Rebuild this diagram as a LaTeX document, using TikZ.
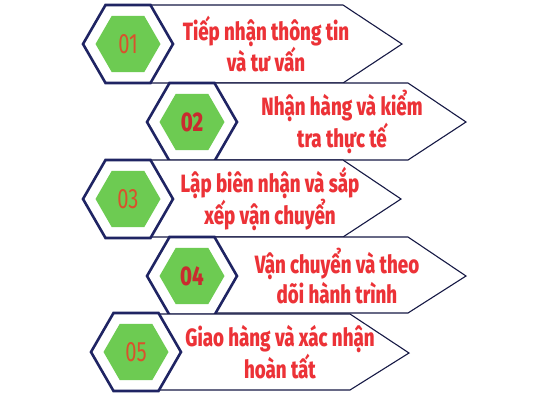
\documentclass[tikz,border=0pt]{standalone}
\usepackage{fontspec}
\setmainfont{Fira Sans}
\newfontfamily\stepfont[FakeStretch=0.75,UprightFont={* ExtraBold}]{Fira Sans}
\newfontfamily\numfont[FakeStretch=0.72]{Fira Sans}
\usetikzlibrary{shapes.geometric}
\definecolor{navy}{HTML}{1F2463}
\definecolor{leaf}{HTML}{6DCB52}
\definecolor{stepred}{HTML}{EC3237}
\definecolor{numorange}{HTML}{D9512C}
\begin{document}
\begin{tikzpicture}[x=1pt,y=-1pt,
  hexout/.style={regular polygon, regular polygon sides=6, minimum size=90pt,
    inner sep=0pt, draw=navy, line width=2.6pt, fill=white},
  hexin/.style={regular polygon, regular polygon sides=6, minimum size=65pt,
    inner sep=0pt, fill=leaf},
  arrowbox/.style={draw=navy!70!black, line width=1.1pt, fill=white},
  steptext/.style={text=stepred, align=center,
    font=\stepfont\fontsize{25}{30}\selectfont},
  numlight/.style={text=numorange, font=\numfont\fontsize{28}{28}\selectfont},
  numbold/.style={text=stepred!85!black, font=\stepfont\fontsize{27}{27}\selectfont}]
\useasboundingbox (0,0) rectangle (533,400);
% row 1
\draw[arrowbox] (128,5) -- (343,5) -- (402,44) -- (343,83) -- (128,83);
\node[hexout] (h1) at (128,44) {};
\node[hexin] (g1) at (h1) {};
\node[numlight] (n1) at (g1) {01};
\node[steptext] (t1) at (266,44) {Tiếp nhận thông tin\\và tư vấn};
% row 2
\draw[arrowbox] (192,83) -- (408,83) -- (466,122) -- (408,160) -- (192,160);
\node[hexout] (h2) at (192,122) {};
\node[hexin] (g2) at (h2) {};
\node[numbold] (n2) at (g2) {02};
\node[steptext] (t2) at (342,122) {Nhận hàng và kiểm\\tra thực tế};
% row 3
\draw[arrowbox] (128,160) -- (343,160) -- (401,199) -- (343,237) -- (128,237);
\node[hexout] (h3) at (128,199) {};
\node[hexin] (g3) at (h3) {};
\node[numlight] (n3) at (g3) {03};
\node[steptext] (t3) at (270,199) {Lập biên nhận và sắp\\xếp vận chuyển};
% row 4
\draw[arrowbox] (192,237) -- (408,237) -- (466,276) -- (408,313) -- (192,313);
\node[hexout] (h4) at (192,276) {};
\node[hexin] (g4) at (h4) {};
\node[numbold] (n4) at (g4) {04};
\node[steptext] (t4) at (337,276) {Vận chuyển và theo\\dõi hành trình};
% row 5
\draw[arrowbox] (136,314) -- (350,314) -- (409,353) -- (350,390) -- (136,390);
\node[hexout] (h5) at (136,352) {};
\node[hexin] (g5) at (h5) {};
\node[numlight] (n5) at (g5) {05};
\node[steptext] (t5) at (280,352) {Giao hàng và xác nhận\\hoàn tất};
\end{tikzpicture}
\end{document}
